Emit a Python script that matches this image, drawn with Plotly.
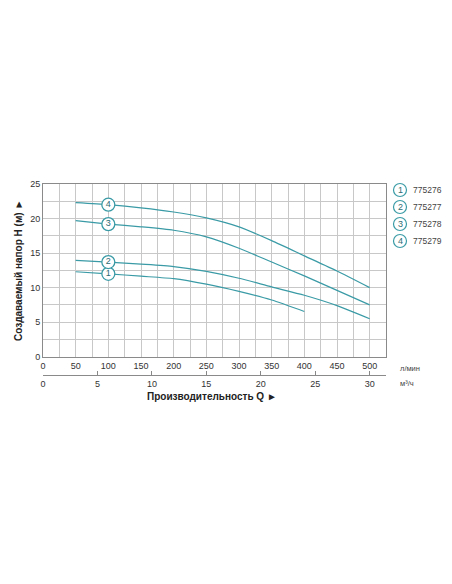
import plotly.graph_objects as go

# Data (flow in l/min, head in m)
Q = [50, 100, 150, 200, 250, 300, 350, 400, 450, 500]
H_775276 = [12.3, 12.0, 11.65, 11.3, 10.5, 9.45, 8.2, 6.55]
H_775277 = [13.95, 13.7, 13.4, 13.05, 12.35, 11.35, 10.1, 8.9, 7.4, 5.5]
H_775278 = [19.7, 19.2, 18.8, 18.3, 17.35, 15.7, 13.7, 11.7, 9.6, 7.5]
H_775279 = [22.3, 22.0, 21.55, 20.95, 20.1, 18.8, 16.8, 14.6, 12.4, 10.0]
labels = ["1", "2", "3", "4"]
models = ["775276", "775277", "775278", "775279"]
series = [H_775276, H_775277, H_775278, H_775279]
marker_q = 100

x_ticks_lmin = [0, 50, 100, 150, 200, 250, 300, 350, 400, 450, 500]
x_ticks_m3h = [0, 5, 10, 15, 20, 25, 30]
y_ticks = [0, 5, 10, 15, 20, 25]

TEAL = "#3a9ba6"
NUM = "#2d6c74"
FONT = "Liberation Sans, Arial, sans-serif"

OFF = 8  # page body margin
W, H = 452 - OFF, 584 - OFF
ML, MR, MT, MB = 43 - OFF, 66, 184 - OFF, 209
PW = W - ML - MR
PH = H - MT - MB
y0_px = 356.7 - OFF
ydom0 = (H - MB - y0_px) / PH


def px_x(x):
    return (x - OFF - ML) / PW


def px_y(y):
    return (H - MB - (y - OFF)) / PH


fig = go.Figure()
for lab, h in zip(labels, series):
    q = Q[:len(h)]
    fig.add_trace(go.Scatter(x=q, y=h, mode="lines",
                             line=dict(color=TEAL, width=1.2, shape="spline", smoothing=0.6),
                             hoverinfo="skip", showlegend=False))
for lab, h in zip(labels, series):
    q = Q[:len(h)]
    i = q.index(marker_q)
    fig.add_trace(go.Scatter(x=[q[i]], y=[h[i]], mode="markers+text",
                             marker=dict(size=13, color="white", line=dict(color=TEAL, width=1.3)),
                             text=[lab], textposition="middle center",
                             textfont=dict(family=FONT, size=9, color=NUM),
                             hoverinfo="skip", showlegend=False))

# dummy trace on secondary axis
fig.add_trace(go.Scatter(x=[0], y=[0], xaxis="x2", mode="markers",
                         marker=dict(opacity=0), hoverinfo="skip", showlegend=False))

fig.update_layout(
    width=W, height=H,
    margin=dict(l=ML, r=MR, t=MT, b=MB),
    paper_bgcolor="white", plot_bgcolor="white",
    font=dict(family=FONT, size=9, color="#333"),
    xaxis=dict(range=[0, 525], tickvals=x_ticks_lmin, ticks="", showgrid=True,
               gridcolor="#c8c8c8", gridwidth=1,
               minor=dict(dtick=25, showgrid=True, gridcolor="#c8c8c8", gridwidth=1),
               showline=True, linecolor="#8a8a8a", linewidth=1, mirror=True,
               zeroline=False, tickfont=dict(size=9, color="#333"), anchor="y"),
    yaxis=dict(range=[0, 25], domain=[ydom0, 1], tickvals=y_ticks, ticks="",
               showgrid=True, gridcolor="#c8c8c8", gridwidth=1,
               minor=dict(dtick=2.5, showgrid=True, gridcolor="#c8c8c8", gridwidth=1),
               showline=True, linecolor="#8a8a8a", linewidth=1, mirror=True,
               zeroline=False, tickfont=dict(size=9, color="#333")),
    xaxis2=dict(range=[0, 31.5], tickvals=x_ticks_m3h, ticks="inside", ticklen=4,
                tickcolor="#888", showgrid=False, showline=True, linecolor="#8a8a8a",
                linewidth=1, zeroline=False, anchor="free", position=0, overlaying="x",
                side="bottom", tickfont=dict(size=9, color="#333")),
)

ann = []
ann.append(dict(text="Создаваемый напор H (м) ►", textangle=-90, xref="paper", yref="paper",
                x=px_x(18), y=px_y(271), xanchor="center", yanchor="middle", showarrow=False,
                font=dict(family=FONT, size=10, color="#222", weight="bold")))
ann.append(dict(text="Производительность Q ►", xref="paper", yref="paper",
                x=px_x(212), y=px_y(396), xanchor="center", yanchor="middle", showarrow=False,
                font=dict(family=FONT, size=10, color="#222", weight="bold")))
ann.append(dict(text="л/мин", xref="paper", yref="paper", x=px_x(398), y=px_y(368),
                xanchor="left", yanchor="middle", showarrow=False,
                font=dict(family=FONT, size=7.5, color="#444")))
ann.append(dict(text="м³/ч", xref="paper", yref="paper", x=px_x(398), y=px_y(383),
                xanchor="left", yanchor="middle", showarrow=False,
                font=dict(family=FONT, size=7.5, color="#444")))

shapes = []
for k, (lab, mdl) in enumerate(zip(labels, models)):
    cy = 190 + 17 * k
    shapes.append(dict(type="circle", xref="paper", yref="paper", xsizemode="pixel",
                       ysizemode="pixel", xanchor=px_x(400), yanchor=px_y(cy),
                       x0=-6.5, x1=6.5, y0=-6.5, y1=6.5,
                       line=dict(color=TEAL, width=1.2), fillcolor="white"))
    ann.append(dict(text=lab, xref="paper", yref="paper", x=px_x(400), y=px_y(cy),
                    xanchor="center", yanchor="middle", showarrow=False,
                    font=dict(family=FONT, size=9, color=NUM)))
    ann.append(dict(text=mdl, xref="paper", yref="paper", x=px_x(411), y=px_y(cy),
                    xanchor="left", yanchor="middle", showarrow=False,
                    font=dict(family=FONT, size=8.5, color="#444")))

fig.update_layout(annotations=ann, shapes=shapes)
fig.write_html("out.html")
